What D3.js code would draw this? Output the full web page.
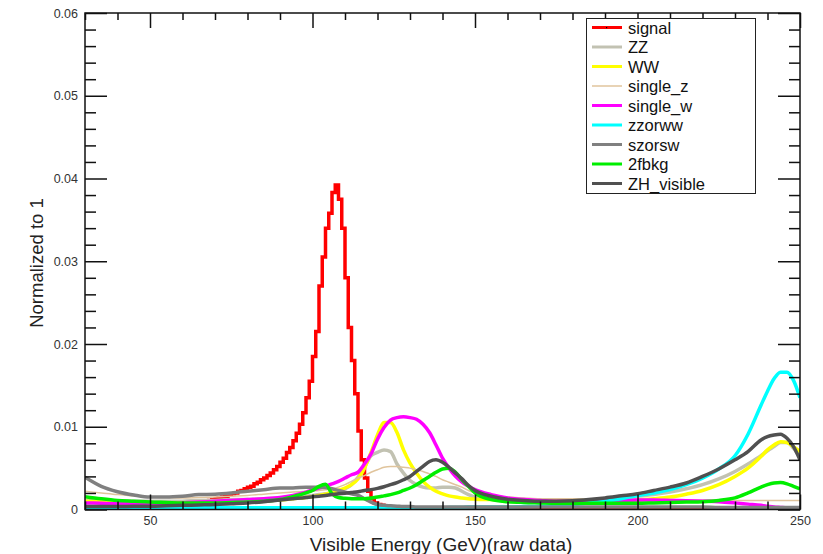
<!DOCTYPE html>
<html>
<head>
<meta charset="utf-8">
<script src="https://cdn.jsdelivr.net/npm/d3@7"></script>
<style>
  html, body { margin: 0; padding: 0; background: #fff; }
  svg { display: block; font-family: "Liberation Sans", Arial, sans-serif; }
</style>
</head>
<body>
<svg id="chart" width="823" height="554"></svg>
<script>
// Visible-energy distributions, each normalized to unit area (values in units of 1e-3 per GeV bin)
const unit = 1e-3;

// Signal: 1 GeV histogram bins starting at signalBinLo
const signalBinLo = 56;
const signal = [
  0.4, 0.4, 0.5, 0.5, 0.5, 0.6, 0.6, 0.7, 0.8, 0.8,      // 56-65
  0.9, 1.0, 1.1, 1.2, 1.3, 1.4, 1.5, 1.6, 1.8, 1.9,      // 66-75
  2.0, 2.2, 2.3, 2.5, 2.7, 2.8, 3.1, 3.3, 3.6, 3.8,      // 76-85
  4.1, 4.4, 4.8, 5.2, 5.7, 6.2, 6.9, 7.5, 8.3, 9.2,      // 86-95
  10.3, 11.7, 13.5, 15.5, 18.5, 21.5, 27.0, 30.5, 34.0, 35.8, // 96-105
  38.3, 39.2, 37.5, 34.0, 28.0, 22.0, 18.0, 14.0, 9.5, 6.0,   // 106-115
  3.8, 2.2, 1.3, 0.8, 0.6, 0.5, 0.4, 0.35, 0.3, 0.3,     // 116-125
  0.25, 0.2, 0.2, 0.15, 0.15                             // 126-130
];
const signalBelow = 0.05;  // level of the 30-56 GeV range
const signalAbove = 0.1;   // level of the 131-250 GeV range

// Background samples on a shared energy grid (GeV)
const energy = [
  30, 35, 40, 45, 50, 55, 60, 65, 70, 75, 80, 85, 90, 94, 98,
  100, 102, 104, 106, 108, 110, 112, 114, 116, 118, 120, 122, 124, 126, 128,
  130, 132, 134, 136, 138, 140, 142, 144, 146, 148, 150,
  155, 160, 165, 170, 175, 180, 185, 190, 195, 200, 205, 210, 215, 220, 225, 230,
  234, 238, 240, 242, 244, 246, 248, 250
];

const zz = [
  1.1, 1.1, 1.0, 1.0, 1.0, 1.0, 1.0, 1.1, 1.1, 1.2, 1.2, 1.3, 1.4, 1.5, 1.6,
  1.7, 1.8, 1.9, 2.0, 2.1, 2.5, 3.0, 3.9, 5.1, 6.5, 6.9, 7.2, 7.0, 5.5, 4.4,
  3.5, 3.0, 2.7, 2.6, 2.6, 2.7, 2.7, 2.6, 2.2, 1.8, 1.5,
  1.25, 1.1, 1.05, 1.0, 1.0, 1.05, 1.15, 1.3, 1.45, 1.6, 1.8, 2.1, 2.5, 3.0, 3.7, 4.6,
  5.5, 6.5, 7.1, 7.6, 8.1, 8.1, 7.4, 6.4
];
const ww = [
  1.0, 0.95, 0.9, 0.85, 0.8, 0.8, 0.8, 0.8, 0.85, 0.9, 0.95, 1.05, 1.15, 1.3, 1.45,
  1.55, 1.7, 1.85, 2.05, 2.3, 2.6, 3.0, 3.7, 5.0, 6.9, 9.0, 10.5, 10.5, 9.3, 7.2,
  5.6, 4.4, 3.4, 2.7, 2.2, 1.9, 1.65, 1.5, 1.4, 1.3, 1.25,
  1.2, 1.15, 1.1, 1.1, 1.1, 1.1, 1.1, 1.1, 1.1, 1.15, 1.3, 1.5, 1.85, 2.3, 3.0, 4.0,
  5.0, 6.4, 7.2, 7.8, 8.2, 8.1, 7.6, 7.0
];
const singleZ = [
  2.2, 2.0, 1.8, 1.65, 1.5, 1.45, 1.4, 1.45, 1.5, 1.6, 1.7, 1.85, 2.0, 2.1, 2.2,
  2.25, 2.3, 2.4, 2.5, 2.7, 3.0, 3.4, 3.8, 4.1, 4.5, 4.8, 5.1, 5.2, 5.2, 5.1,
  5.0, 4.8, 4.6, 4.3, 4.0, 3.6, 3.3, 3.0, 2.7, 2.3, 2.0,
  1.65, 1.5, 1.4, 1.3, 1.3, 1.3, 1.25, 1.25, 1.2, 1.2, 1.2, 1.2, 1.15, 1.15, 1.15, 1.1,
  1.1, 1.1, 1.1, 1.1, 1.1, 1.1, 1.1, 1.1
];
const singleW = [
  0.8, 0.75, 0.7, 0.7, 0.7, 0.75, 0.8, 0.9, 1.0, 1.1, 1.2, 1.3, 1.45, 1.7, 2.1,
  2.35, 2.6, 2.8, 3.1, 3.4, 3.8, 4.2, 4.5, 5.5, 6.7, 8.5, 9.9, 10.8, 11.1, 11.2,
  11.1, 10.9, 10.3, 9.3, 7.8, 6.2, 5.0, 4.0, 3.3, 2.8, 2.4,
  1.8, 1.4, 1.2, 1.1, 1.0, 1.0, 1.0, 1.05, 1.1, 1.15, 1.15, 1.1, 1.05, 1.0, 0.95, 0.8,
  0.65, 0.5, 0.4, 0.3, 0.25, 0.2, 0.2, 0.2
];
const zzorww = [
  0.2, 0.2, 0.2, 0.2, 0.2, 0.2, 0.2, 0.2, 0.2, 0.2, 0.2, 0.2, 0.2, 0.2, 0.2,
  0.2, 0.2, 0.2, 0.2, 0.2, 0.2, 0.2, 0.2, 0.2, 0.2, 0.2, 0.2, 0.2, 0.2, 0.2,
  0.2, 0.2, 0.2, 0.2, 0.2, 0.2, 0.25, 0.25, 0.25, 0.3, 0.3,
  0.3, 0.3, 0.35, 0.4, 0.5, 0.6, 0.8, 1.0, 1.3, 1.7, 2.0, 2.4, 3.0, 3.8, 4.9, 6.5,
  9.1, 12.6, 14.3, 15.8, 16.6, 16.6, 15.6, 13.5
];
const szorsw = [
  3.9, 2.8, 2.15, 1.75, 1.5, 1.5, 1.6, 1.8, 1.85, 2.0, 2.2, 2.4, 2.6, 2.6, 2.7,
  2.7, 2.7, 2.65, 2.5, 2.3, 2.1, 1.9, 1.7, 1.3, 0.9, 0.6, 0.5, 0.45, 0.4, 0.35,
  0.35, 0.3, 0.3, 0.3, 0.3, 0.3, 0.3, 0.3, 0.3, 0.3, 0.3,
  0.3, 0.3, 0.3, 0.3, 0.3, 0.3, 0.3, 0.3, 0.3, 0.3, 0.3, 0.3, 0.3, 0.3, 0.25, 0.25,
  0.25, 0.25, 0.25, 0.25, 0.25, 0.25, 0.25, 0.25
];
const twoFbkg = [
  1.55, 1.3, 1.1, 1.0, 0.9, 0.85, 0.8, 0.8, 0.8, 0.85, 0.9, 1.0, 1.2, 1.55, 2.0,
  2.3, 2.8, 3.05, 1.9, 1.45, 1.35, 1.3, 1.3, 1.3, 1.4, 1.5, 1.65, 1.8, 2.0, 2.3,
  2.6, 3.0, 3.5, 4.0, 4.5, 4.9, 5.0, 4.5, 3.6, 2.8, 2.0,
  1.2, 0.95, 0.85, 0.8, 0.75, 0.75, 0.75, 0.75, 0.75, 0.75, 0.8, 0.85, 0.9, 0.95, 1.1, 1.4,
  2.0, 2.7, 3.0, 3.2, 3.25, 3.1, 2.8, 2.5
];
const zhVisible = [
  0.35, 0.35, 0.35, 0.4, 0.4, 0.45, 0.5, 0.55, 0.6, 0.7, 0.8, 0.95, 1.15, 1.3, 1.45,
  1.55, 1.6, 1.7, 1.8, 1.9, 1.95, 2.05, 2.15, 2.3, 2.4, 2.55, 2.75, 3.0, 3.25, 3.6,
  4.0, 4.6, 5.2, 5.8, 6.0, 5.7, 5.1, 4.4, 3.7, 2.9, 2.3,
  1.6, 1.25, 1.1, 1.0, 1.0, 1.05, 1.2, 1.4, 1.65, 1.9, 2.3, 2.7, 3.2, 4.0, 4.9, 6.0,
  7.0, 8.4, 8.8, 9.0, 9.1, 8.6, 7.6, 6.0
];

const seriesNames = ["signal", "ZZ", "WW", "single_z", "single_w", "zzorww", "szorsw", "2fbkg", "ZH_visible"];
const seriesColors = ["#ff0000", "#c2c2b2", "#ffff00", "#e0c49c", "#ff00ff", "#00ffff", "#808080", "#00ee00", "#505050"];
const seriesWidths = [3.5, 3.5, 3.5, 1.5, 3.5, 3.5, 3.5, 3.5, 3.5];
const backgrounds = [zz, ww, singleZ, singleW, zzorww, szorsw, twoFbkg, zhVisible];

const xTicks = [50, 100, 150, 200, 250];
const xTickLabels = ["50", "100", "150", "200", "250"];
const yTicks = [0, 0.01, 0.02, 0.03, 0.04, 0.05, 0.06];
const yTickLabels = ["0", "0.01", "0.02", "0.03", "0.04", "0.05", "0.06"];
const xTitle = "Visible Energy (GeV)(raw data)";
const yTitle = "Normalized to 1";

// ---- layout ----
const svg = d3.select("#chart");
const frame = { left: 85, right: 800, top: 13, bottom: 509.5 };
const x = d3.scaleLinear().domain([30, 250]).range([frame.left, frame.right]);
const y = d3.scaleLinear().domain([0, 0.06]).range([frame.bottom, frame.top]);

const plot = svg.append("g");
svg.append("clipPath").attr("id", "plotclip")
  .append("rect")
  .attr("x", frame.left).attr("y", frame.top - 2)
  .attr("width", frame.right - frame.left).attr("height", frame.bottom - frame.top + 2);

// ---- curves ----
const curves = plot.append("g").attr("clip-path", "url(#plotclip)");

// signal histogram (step outline)
const sigBins = [{ x0: 30, x1: signalBinLo, v: signalBelow }];
signal.forEach((v, i) => sigBins.push({ x0: signalBinLo + i, x1: signalBinLo + i + 1, v }));
sigBins.push({ x0: signalBinLo + signal.length, x1: 250, v: signalAbove });
const sigPts = [];
sigBins.forEach(b => { sigPts.push([b.x0, b.v]); sigPts.push([b.x1, b.v]); });

const lineXY = d3.line().x(d => x(d[0])).y(d => y(d[1] * unit));
curves.append("path")
  .attr("d", lineXY(sigPts))
  .attr("fill", "none")
  .attr("stroke", seriesColors[0])
  .attr("stroke-width", seriesWidths[0])
  .attr("stroke-linejoin", "miter");

const smooth = d3.line()
  .x((d, i) => x(energy[i]))
  .y(d => y(d * unit))
  .curve(d3.curveMonotoneX);

backgrounds.forEach((vals, k) => {
  curves.append("path")
    .attr("d", smooth(vals))
    .attr("fill", "none")
    .attr("stroke", seriesColors[k + 1])
    .attr("stroke-width", seriesWidths[k + 1])
    .attr("stroke-linejoin", "round");
});

// ---- axes (ticks point inward on all four sides) ----
const xMinor = d3.range(30, 251, 10).filter(v => !xTicks.includes(v));
const yMinor = d3.range(0, 0.0601, 0.002).filter(v => !yTicks.some(t => Math.abs(t - v) < 1e-9));

function styleAxis(g) {
  g.select(".domain").remove();
  g.selectAll(".tick line").attr("stroke", "#111").attr("stroke-width", 1.5);
  g.selectAll(".tick text").attr("fill", "#333").attr("font-size", 12.5)
    .attr("font-family", "Liberation Sans, Arial, sans-serif");
}

// bottom
svg.append("g").attr("transform", `translate(0,${frame.bottom})`)
  .call(d3.axisBottom(x).tickValues(xTicks).tickSize(-15).tickPadding(7)
    .tickFormat((d, i) => xTickLabels[i]))
  .call(styleAxis);
svg.append("g").attr("transform", `translate(0,${frame.bottom})`)
  .call(d3.axisBottom(x).tickValues(xMinor).tickSize(-8).tickFormat(""))
  .call(styleAxis);
// top
svg.append("g").attr("transform", `translate(0,${frame.top})`)
  .call(d3.axisTop(x).tickValues(xTicks).tickSize(-15).tickFormat(""))
  .call(styleAxis);
svg.append("g").attr("transform", `translate(0,${frame.top})`)
  .call(d3.axisTop(x).tickValues(xMinor).tickSize(-7).tickFormat(""))
  .call(styleAxis);
// left
svg.append("g").attr("transform", `translate(${frame.left},0)`)
  .call(d3.axisLeft(y).tickValues(yTicks).tickSize(-22).tickPadding(7)
    .tickFormat((d, i) => yTickLabels[i]))
  .call(styleAxis);
svg.append("g").attr("transform", `translate(${frame.left},0)`)
  .call(d3.axisLeft(y).tickValues(yMinor).tickSize(-11).tickFormat(""))
  .call(styleAxis);
// right
svg.append("g").attr("transform", `translate(${frame.right},0)`)
  .call(d3.axisRight(y).tickValues(yTicks).tickSize(-22).tickFormat(""))
  .call(styleAxis);
svg.append("g").attr("transform", `translate(${frame.right},0)`)
  .call(d3.axisRight(y).tickValues(yMinor).tickSize(-11).tickFormat(""))
  .call(styleAxis);

// frame
svg.append("rect")
  .attr("x", frame.left).attr("y", frame.top)
  .attr("width", frame.right - frame.left).attr("height", frame.bottom - frame.top)
  .attr("fill", "none").attr("stroke", "#111").attr("stroke-width", 1.5);

// titles
svg.append("text")
  .attr("x", 441).attr("y", 551)
  .attr("text-anchor", "middle").attr("font-size", 19).attr("fill", "#222")
  .text(xTitle);
svg.append("text")
  .attr("transform", `translate(43,263) rotate(-90)`)
  .attr("text-anchor", "middle").attr("font-size", 18.5).attr("fill", "#222")
  .text(yTitle);

// ---- legend ----
const legend = svg.append("g");
legend.append("rect")
  .attr("x", 586.5).attr("y", 18.5).attr("width", 169).attr("height", 175)
  .attr("fill", "#fff").attr("stroke", "#222").attr("stroke-width", 1);
seriesNames.forEach((name, i) => {
  const cy = 27.5 + i * 19.5;
  legend.append("line")
    .attr("x1", 592).attr("x2", 622).attr("y1", cy).attr("y2", cy)
    .attr("stroke", seriesColors[i]).attr("stroke-width", Math.min(seriesWidths[i], 3));
  if (i === 0) {
    legend.append("rect").attr("x", 606).attr("y", cy - 0.5).attr("width", 1.2).attr("height", 1.2).attr("fill", "#000");
  }
  legend.append("text")
    .attr("x", 628).attr("y", cy + 6)
    .attr("font-size", 16.5).attr("fill", "#111")
    .text(name);
});
</script>
</body>
</html>
